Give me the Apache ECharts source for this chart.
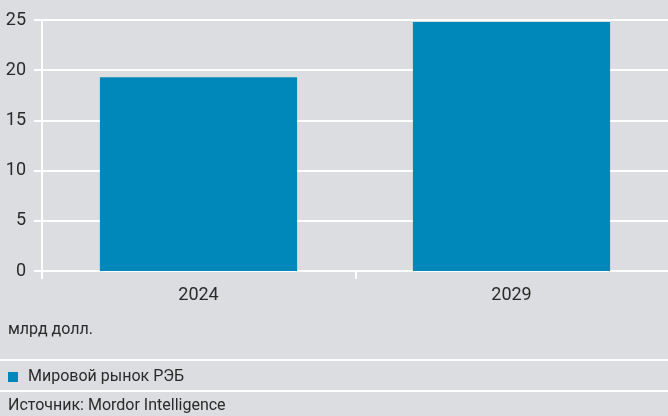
<!DOCTYPE html>
<html>
<head>
<meta charset="utf-8">
<script src="https://cdn.jsdelivr.net/npm/echarts@6/dist/echarts.min.js"></script>
<style>
html,body{margin:0;padding:0;background:#dcdde0;}
#chart{width:668px;height:416px;}
</style>
</head>
<body>
<div id="chart"></div>
<script>
// Global electronic warfare market, bn USD
const years = ['2024', '2029'];
const marketValues = [19.3, 24.8];
const seriesName = 'Мировой рынок РЭБ';
const unitLabel = 'млрд долл.';
const sourceLabel = 'Источник: Mordor Intelligence';

const FONT = 'Roboto, "DejaVu Sans Condensed", sans-serif';
const TEXT = '#2a2a2a';
const BAR = '#0088bb';
const AXIS_SIZE = 18;
const NOTE_SIZE = 16;

const chart = echarts.init(document.getElementById('chart'));
chart.setOption({
  backgroundColor: '#dcdde0',
  animation: false,
  textStyle: { fontFamily: FONT },
  grid: { left: 42, top: 20, width: 628, height: 251, containLabel: false },
  legend: {
    data: [seriesName],
    left: 3, top: 364,
    itemWidth: 10, itemHeight: 10, itemGap: 10,
    icon: 'rect',
    textStyle: { fontFamily: FONT, fontSize: NOTE_SIZE, color: TEXT, padding: [0, 0, 0, 5] }
  },
  xAxis: {
    type: 'category',
    data: years,
    axisLine: { show: true, lineStyle: { color: '#ffffff', width: 2 } },
    axisTick: { show: false },
    axisLabel: { fontSize: AXIS_SIZE, color: TEXT, margin: 15, fontFamily: FONT }
  },
  yAxis: {
    type: 'value',
    min: 0, max: 25, interval: 5,
    axisLine: { show: true, lineStyle: { color: '#ffffff', width: 2 } },
    axisTick: { show: true, length: 8, lineStyle: { color: '#ffffff', width: 2 } },
    splitLine: { show: true, lineStyle: { color: '#ffffff', width: 2 } },
    axisLabel: { fontSize: AXIS_SIZE, color: TEXT, margin: 16, fontFamily: FONT }
  },
  series: [{
    name: seriesName,
    type: 'bar',
    data: marketValues,
    barWidth: '63%',
    itemStyle: { color: BAR }
  }],
  graphic: [
    { type: 'text', left: 8, top: 322, style: { text: unitLabel, font: NOTE_SIZE + 'px ' + FONT, fill: TEXT } },
    { type: 'rect', shape: { x: 0, y: 359, width: 668, height: 2 }, style: { fill: '#ffffff' } },
    { type: 'rect', shape: { x: 0, y: 390, width: 668, height: 2 }, style: { fill: '#ffffff' } },
    { type: 'text', left: 8, top: 398, style: { text: sourceLabel, font: NOTE_SIZE + 'px ' + FONT, fill: TEXT } },
    { type: 'rect', shape: { x: 41, y: 271, width: 2, height: 8 }, style: { fill: '#ffffff' } },
    { type: 'rect', shape: { x: 355, y: 271, width: 2, height: 8 }, style: { fill: '#ffffff' } }
  ]
});
</script>
</body>
</html>
